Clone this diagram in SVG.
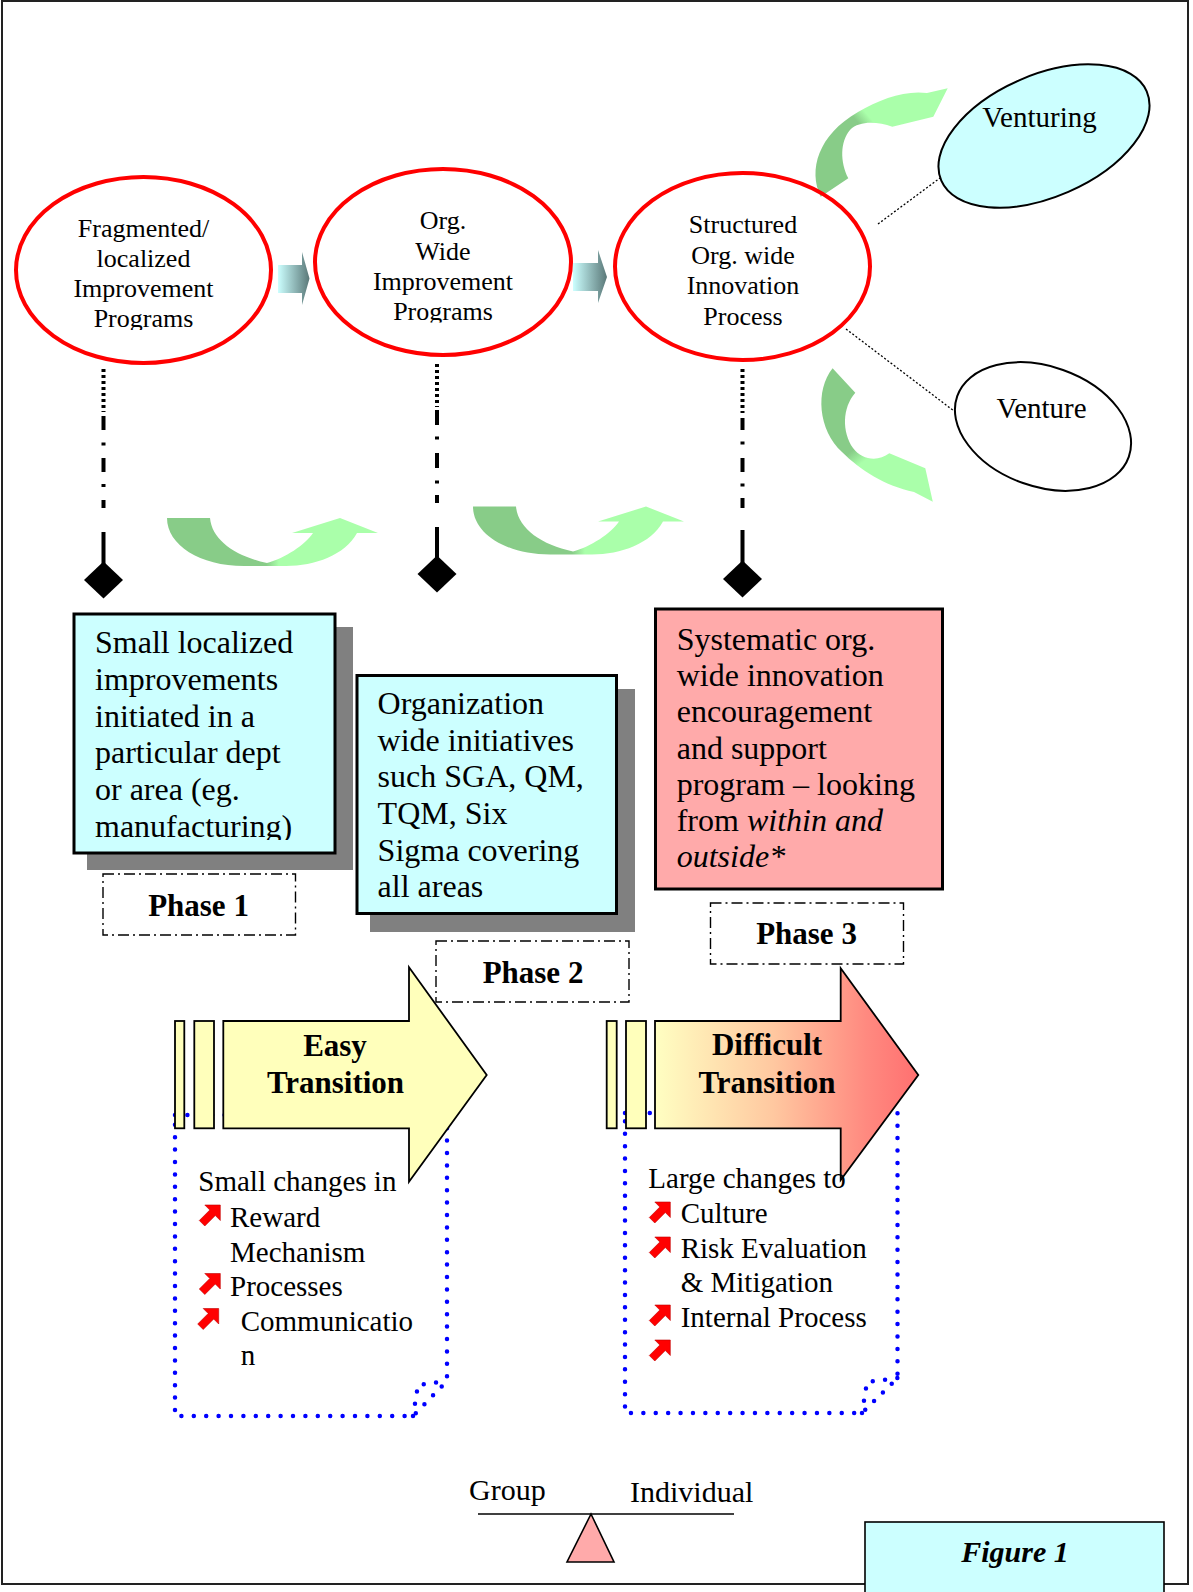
<svg xmlns="http://www.w3.org/2000/svg" width="1193" height="1592" viewBox="0 0 1193 1592">
<style>
text{font-family:"Liberation Serif","Times New Roman",serif;fill:#000}
.et{font-size:26px;text-anchor:middle}
.bt{font-size:32px}
.lt{font-size:29px}
.ph{font-size:31px;font-weight:bold;text-anchor:middle}
.red{fill:none;stroke:#ff0000;stroke-width:4}
.box{stroke:#000;stroke-width:3}
.shadow{fill:#808080}
.phase{fill:#fff;stroke:#000;stroke-width:1.4;stroke-dasharray:11 4 2 4}
.blue{fill:none;stroke:#0000ff;stroke-width:4.5;stroke-linecap:round;stroke-dasharray:0 12.4}
.conn{stroke:#000;stroke-width:4;fill:none}
.dot{stroke:#000;stroke-width:1.3;fill:none;stroke-dasharray:2 2}
.tr{stroke:#000;stroke-width:1.8}
</style>
<defs>
<linearGradient id="gBlock" x1="0" y1="0" x2="1" y2="0">
<stop offset="0" stop-color="#ccffff"/><stop offset="1" stop-color="#5a7878"/>
</linearGradient>
<linearGradient id="gDiff" gradientUnits="userSpaceOnUse" x1="655" y1="0" x2="918" y2="0">
<stop offset="0" stop-color="#ffffc2"/><stop offset="0.45" stop-color="#ffc8a0"/><stop offset="0.8" stop-color="#ff8a80"/><stop offset="1" stop-color="#ff7070"/>
</linearGradient>
<linearGradient id="gB" gradientUnits="userSpaceOnUse" x1="167" y1="0" x2="378" y2="0">
<stop offset="0" stop-color="#88cc88"/><stop offset="0.47" stop-color="#88cc88"/><stop offset="0.53" stop-color="#aaffaa"/><stop offset="1" stop-color="#aaffaa"/>
</linearGradient>
<linearGradient id="gA3" gradientUnits="userSpaceOnUse" x1="830" y1="190" x2="948" y2="90">
<stop offset="0" stop-color="#88cc88"/><stop offset="0.42" stop-color="#88cc88"/><stop offset="0.5" stop-color="#aaffaa"/><stop offset="1" stop-color="#aaffaa"/>
</linearGradient>
<linearGradient id="gA4" gradientUnits="userSpaceOnUse" x1="835" y1="375" x2="930" y2="500">
<stop offset="0" stop-color="#88cc88"/><stop offset="0.45" stop-color="#88cc88"/><stop offset="0.55" stop-color="#aaffaa"/><stop offset="1" stop-color="#aaffaa"/>
</linearGradient>
<path id="bul" d="M22,0 L22,15.5 L17,10.5 L6.5,21 L1,15.5 L11.5,5 L6.5,0 Z" fill="#ff0000" stroke="#c00000" stroke-width="0.6"/>
<clipPath id="c1"><rect x="0" y="150" width="300" height="180"/></clipPath>
<clipPath id="c2"><rect x="300" y="150" width="300" height="172.5"/></clipPath>
<clipPath id="cb1"><rect x="76" y="615" width="258" height="225"/></clipPath>
</defs>

<rect x="2" y="1" width="1186" height="1583" fill="#fff" stroke="#222" stroke-width="2"/>

<g id="connectors">
<path d="M820.7,196.7 C808,170 818,135 858,112 C880,99 905,90 927,93 L947.7,88.3 L933.3,116.7 L892.3,126.7 C878,122 860,120 850,130 C840,142 840,162 848.3,178.3 Z" fill="url(#gA3)"/>
<path d="M832.6,368.3 C815,390 818,430 842,452 C860,470 885,486 914,492 L932.8,501.7 L925.3,468.3 L889.3,453.3 C878,462 862,460 853,448 C842,432 842,408 855.3,392.7 Z" fill="url(#gA4)"/>
<path id="bArrow" d="M167,518 L210,518 C212,540 235,556 267,563 C285,558 305,545 313,533 L292,533 L340,518 L378,533 L357,533 C345,555 315,566 286,566 L244,566 C200,566 167,545 167,518 Z" fill="url(#gB)"/>
<use href="#bArrow" transform="translate(306,-11.5)"/>
<line class="dot" x1="878" y1="224" x2="940" y2="178"/>
<line class="dot" x1="846" y1="329" x2="954" y2="411"/>
<path d="M278,265 H302 V252 L309.5,278.5 L302,305 V293 H278 Z" fill="url(#gBlock)"/>
<path d="M573,263 H598 V250 L607,277 L598,303 V291 H573 Z" fill="url(#gBlock)"/>
<path class="conn" stroke-dasharray="3 3" d="M103.5,369 V412 M437,364 V407 M742.5,369 V413"/>
<path class="conn" d="M103.5,416 V430 M103.5,442.5 V445.5 M103.5,458 V472 M103.5,484 V487 M103.5,500 V508 M103.5,532 V565"/>
<path class="conn" d="M437,410 V425 M437,436.5 V439.5 M437,453 V468 M437,480.5 V483.5 M437,495 V503 M437,527 V559"/>
<path class="conn" d="M742.5,418 V430 M742.5,441.5 V444.5 M742.5,458 V472 M742.5,483.5 V486.5 M742.5,498 V508 M742.5,530 V564"/>
<path d="M103.5,561.5 L123,580 L103.5,598.5 L84,580 Z" fill="#000"/>
<path d="M437,555.5 L456.5,574 L437,592.5 L417.5,574 Z" fill="#000"/>
<path d="M742.5,560.5 L762,579 L742.5,597.5 L723,579 Z" fill="#000"/>
</g>

<g id="node-fragmented">
<ellipse class="red" cx="143.5" cy="270" rx="127.5" ry="93"/>
<g clip-path="url(#c1)">
<text class="et" x="143.5" y="237">Fragmented/</text>
<text class="et" x="143.5" y="267">localized</text>
<text class="et" x="143.5" y="297">Improvement</text>
<text class="et" x="143.5" y="327">Programs</text>
</g>
</g>
<g id="node-orgwide">
<ellipse class="red" cx="443" cy="262" rx="128" ry="93"/>
<g clip-path="url(#c2)">
<text class="et" x="443" y="229">Org.</text>
<text class="et" x="443" y="259.5">Wide</text>
<text class="et" x="443" y="290">Improvement</text>
<text class="et" x="443" y="320">Programs</text>
</g>
</g>
<g id="node-structured">
<ellipse class="red" cx="742.5" cy="266.5" rx="127.5" ry="93.5"/>
<text class="et" x="743" y="233">Structured</text>
<text class="et" x="743" y="263.5">Org. wide</text>
<text class="et" x="743" y="294">Innovation</text>
<text class="et" x="743" y="324.5">Process</text>
</g>
<g id="node-venturing">
<ellipse cx="1044" cy="136" rx="112" ry="61" transform="rotate(-23.5 1044 136)" fill="#ccffff" stroke="#000" stroke-width="2"/>
<text x="1039.5" y="127" font-size="29" text-anchor="middle">Venturing</text>
</g>
<g id="node-venture">
<ellipse cx="1043" cy="426.5" rx="91" ry="60" transform="rotate(19.5 1043 426.5)" fill="#fff" stroke="#000" stroke-width="2"/>
<text x="1041.5" y="418" font-size="29" text-anchor="middle">Venture</text>
</g>

<g id="node-box1">
<rect class="shadow" x="87" y="627" width="266" height="243"/>
<rect class="box" x="74" y="614" width="261" height="239" fill="#ccffff"/>
<g clip-path="url(#cb1)" class="bt">
<text x="95" y="653.3">Small localized</text>
<text x="95" y="690">improvements</text>
<text x="95" y="726.7">initiated in a</text>
<text x="95" y="763.3">particular dept</text>
<text x="95" y="800">or area (eg.</text>
<text x="95" y="836.7">manufacturing)</text>
</g>
</g>
<g id="node-box2">
<rect class="shadow" x="370" y="689" width="265" height="243"/>
<rect class="box" x="357" y="675.5" width="259.5" height="238" fill="#ccffff"/>
<g class="bt">
<text x="377.6" y="714">Organization</text>
<text x="377.6" y="750.7">wide initiatives</text>
<text x="377.6" y="787.3">such SGA, QM,</text>
<text x="377.6" y="824">TQM, Six</text>
<text x="377.6" y="860.7">Sigma covering</text>
<text x="377.6" y="897.3">all areas</text>
</g>
</g>
<g id="node-box3">
<rect class="box" x="655.5" y="609" width="287" height="280" fill="#ffaaaa"/>
<g class="bt">
<text x="676.7" y="649.5">Systematic org.</text>
<text x="676.7" y="686">wide innovation</text>
<text x="676.7" y="722">encouragement</text>
<text x="676.7" y="758.5">and support</text>
<text x="676.7" y="795">program – looking</text>
<text x="676.7" y="831">from <tspan font-style="italic">within and</tspan></text>
<text x="676.7" y="867" font-style="italic">outside*</text>
</g>
</g>

<g id="node-phase1">
<rect class="phase" x="103" y="874" width="192.5" height="61"/>
<text class="ph" x="198.5" y="916">Phase 1</text>
</g>
<g id="node-phase2">
<rect class="phase" x="436" y="941" width="193" height="61"/>
<text class="ph" x="533" y="983">Phase 2</text>
</g>
<g id="node-phase3">
<rect class="phase" x="710.5" y="903" width="193" height="61"/>
<text class="ph" x="806.5" y="944">Phase 3</text>
</g>

<g id="node-easy">
<path class="blue" d="M175,1115 H447 V1381 L413,1416 H175 Z"/>
<path class="blue" d="M413,1416 L418,1385 L447,1381"/>
<rect class="tr" x="175" y="1021" width="9.3" height="107.3" fill="#ffffbb"/>
<rect class="tr" x="194.3" y="1021" width="19.7" height="107.3" fill="#ffffbb"/>
<path class="tr" d="M223.3,1021 H409 V967.3 L486.7,1075 L409,1181.7 V1128.3 H223.3 Z" fill="#ffffbb"/>
<text class="ph" x="335" y="1056">Easy</text>
<text class="ph" x="335.5" y="1093">Transition</text>
<g class="lt">
<text x="198.3" y="1190.7">Small changes in</text>
<text x="230" y="1226.7">Reward</text>
<text x="230" y="1261.7">Mechanism</text>
<text x="230" y="1295.7">Processes</text>
<text x="240.7" y="1330.7">Communicatio</text>
<text x="240.7" y="1365">n</text>
</g>
<use href="#bul" x="198.3" y="1205"/>
<use href="#bul" x="198.3" y="1273.5"/>
<use href="#bul" x="196.7" y="1308.5"/>
</g>

<g id="node-difficult">
<path class="blue" d="M625,1113 H897.5 V1378 L862,1413 H625 Z"/>
<path class="blue" d="M862,1413 L867,1382 L897.5,1378"/>
<rect class="tr" x="606.7" y="1021" width="10" height="107.3" fill="#ffffbb"/>
<rect class="tr" x="626" y="1021" width="20" height="107.3" fill="#ffffbb"/>
<path class="tr" d="M655,1021 H840.7 V968.3 L918.3,1075 L840.7,1180 V1128.3 H655 Z" fill="url(#gDiff)"/>
<text class="ph" x="767" y="1055">Difficult</text>
<text class="ph" x="767" y="1093">Transition</text>
<g class="lt">
<text x="648.3" y="1188.3">Large changes to</text>
<text x="680.7" y="1223.3">Culture</text>
<text x="680.7" y="1258.3">Risk Evaluation</text>
<text x="680.7" y="1291.7">&amp; Mitigation</text>
<text x="680.7" y="1326.7">Internal Process</text>
</g>
<use href="#bul" x="648.3" y="1202"/>
<use href="#bul" x="648.3" y="1237"/>
<use href="#bul" x="648.3" y="1305"/>
<use href="#bul" x="648.3" y="1340"/>
</g>

<g id="node-balance">
<text x="469" y="1500" font-size="30">Group</text>
<text x="630" y="1502" font-size="30">Individual</text>
<line x1="478" y1="1514" x2="734" y2="1514" stroke="#000" stroke-width="1.6"/>
<path d="M591,1514 L614,1562 L567,1562 Z" fill="#ffaaaa" stroke="#000" stroke-width="1.6"/>
</g>

<g id="node-figure">
<rect x="865" y="1522" width="299" height="80" fill="#ccffff" stroke="#000" stroke-width="1.6"/>
<text x="1015" y="1562" font-size="30" font-weight="bold" font-style="italic" text-anchor="middle">Figure 1</text>
</g>
</svg>
